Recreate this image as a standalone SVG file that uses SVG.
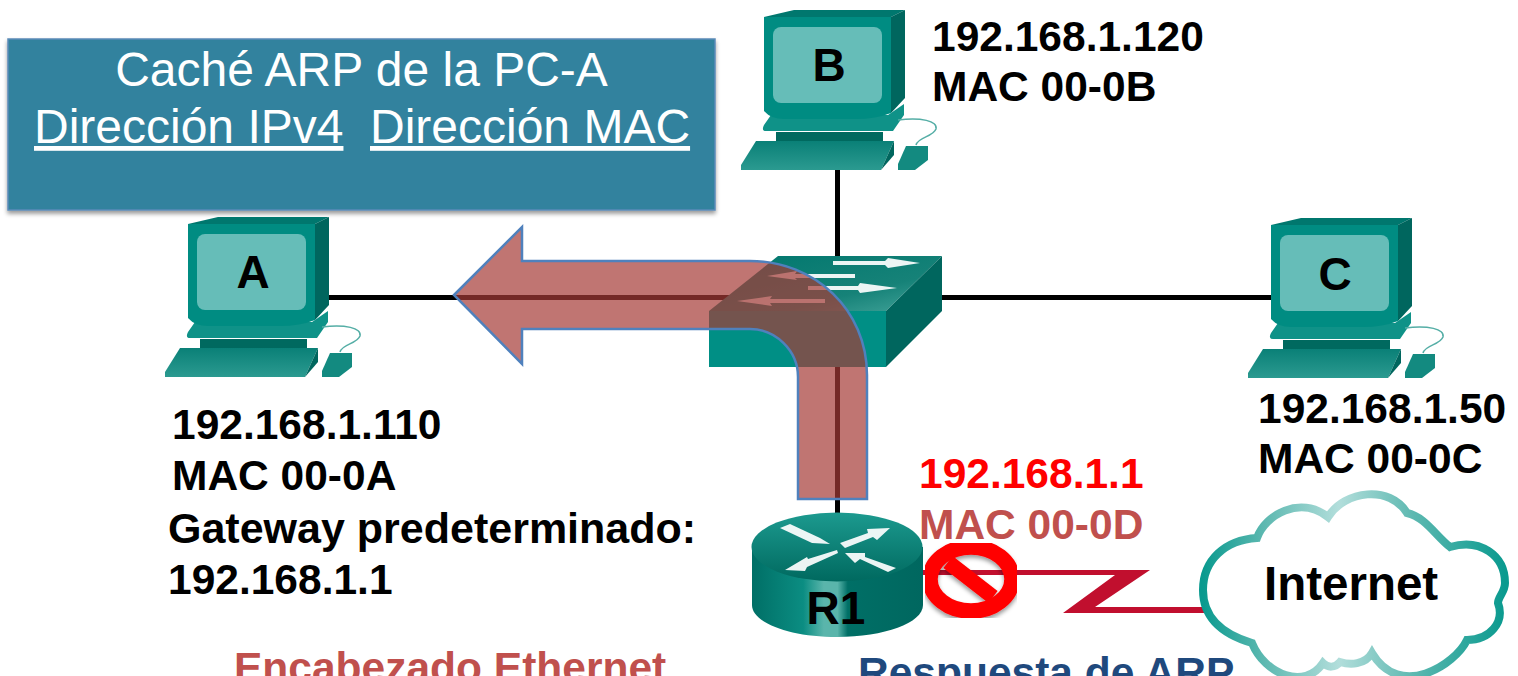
<svg xmlns="http://www.w3.org/2000/svg" xmlns:xlink="http://www.w3.org/1999/xlink" width="1518" height="676" viewBox="0 0 1518 676">
<style>
text{font-family:"Liberation Sans",Arial,sans-serif}
.b{font-weight:700;font-size:42.500px;fill:#000}
.n{font-weight:700;font-size:46px;fill:#000;text-anchor:middle}
.w{font-size:48px;fill:#fff}
.l{stroke:#000;stroke-width:5;fill:none}
.sa{fill:#fff;opacity:.92}
</style>
<defs>
<filter id="sh" x="-5%" y="-5%" width="110%" height="115%"><feDropShadow dx="0" dy="3" stdDeviation="2" flood-color="#000" flood-opacity=".4"/></filter>
<linearGradient id="kb" x1="0" y1="0" x2="0" y2="1"><stop offset="0" stop-color="#0a8077"/><stop offset="1" stop-color="#2b9a90"/></linearGradient>
<linearGradient id="top" x1="0" y1="0" x2="1" y2="1"><stop offset="0" stop-color="#00776e"/><stop offset=".65" stop-color="#168278"/><stop offset="1" stop-color="#45a69c"/></linearGradient>
<linearGradient id="cyl" x1="0" y1="0" x2="1" y2="0"><stop offset="0" stop-color="#006f66"/><stop offset=".3" stop-color="#0b8d82"/><stop offset=".42" stop-color="#5ab5ab"/><stop offset=".5" stop-color="#5ab5ab"/><stop offset=".56" stop-color="#006f66"/><stop offset="1" stop-color="#00675f"/></linearGradient>
<linearGradient id="rt" x1="0" y1="0" x2="0" y2="1"><stop offset="0" stop-color="#1c9a8f"/><stop offset="1" stop-color="#00695f"/></linearGradient>
<linearGradient id="cl" x1="0" y1="0" x2="1" y2="0"><stop offset="0" stop-color="#0a9a8f"/><stop offset=".2" stop-color="#5cb8b0"/><stop offset=".45" stop-color="#b2dedb"/><stop offset=".7" stop-color="#5cb8b0"/><stop offset="1" stop-color="#0a9a8f"/></linearGradient>
<g id="pc">
<path d="M188 224L218 217H329L315 224Z" fill="#00776e"/>
<path d="M315 224L329 217V305L315 320Z" fill="#00665e"/>
<path d="M200 339H307V348H200Z" fill="#00695f"/>
<path d="M195 322H312L328 311V322L317 338H190Q185 338 188 332Z" fill="#0f9288"/>
<path d="M188 224H315V320Q300 326 280 326H208Q195 326 188 318Z" fill="#008c82"/>
<rect x="197" y="234" width="109" height="76" rx="8" fill="#66bdb8"/>
<path d="M180 348H318L305 377H165V372Z" fill="url(#kb)"/>
<path d="M318 348V362L305 377Z" fill="#00665e"/>
<path d="M330 353H352V367L339 377H322V371Z" fill="#138a80"/>
<path d="M322 327C345 324 362 328 360 336C357 344 342 344 340 352" fill="none" stroke="#55aea6" stroke-width="1.500"/>
</g>
</defs>
<rect width="1518" height="676" fill="#fff"/>
<g id="connectors">
<path class="l" d="M329 297.500H760"/>
<path class="l" d="M942 297.500H1272"/>
<path class="l" d="M837.500 170V258"/>
<path class="l" d="M837.500 365V515"/>
<path d="M923 570H1150L1095 607H1205V613H1063L1115 575H923Z" fill="#c10f2e"/>
</g>
<g id="cache-box">
<rect x="8" y="39" width="707" height="171" fill="#33829e" stroke="#5b8ab8" stroke-width="1.500" filter="url(#sh)"/>
<text class="w" x="361.500" y="86" text-anchor="middle">Caché ARP de la PC-A</text>
<text class="w" x="34" y="143" text-decoration="underline">Dirección IPv4</text>
<text class="w" x="370" y="143" text-decoration="underline">Dirección MAC</text>
</g>
<g id="pc-a">
<use xlink:href="#pc" href="#pc"/>
<text class="n" x="253" y="288">A</text>
<text class="b" x="172" y="439">192.168.1.110</text>
<text class="b" x="172" y="490">MAC 00-0A</text>
<text class="b" x="168" y="543" style="font-size:43px">Gateway predeterminado:</text>
<text class="b" x="168" y="594">192.168.1.1</text>
</g>
<g id="pc-b">
<use xlink:href="#pc" href="#pc" transform="translate(576 -207)"/>
<text class="n" x="829" y="81">B</text>
<text class="b" x="932" y="51">192.168.1.120</text>
<text class="b" x="932" y="101">MAC 00-0B</text>
</g>
<g id="pc-c">
<use xlink:href="#pc" href="#pc" transform="translate(1083 1)"/>
<text class="n" x="1335" y="290">C</text>
<text class="b" x="1258" y="423">192.168.1.50</text>
<text class="b" x="1258" y="473">MAC 00-0C</text>
</g>
<g id="switch">
<path d="M709 311L778 256H942L886 311Z" fill="url(#top)"/>
<path d="M709 311H886V367H709Z" fill="#008f85"/>
<path d="M886 311L942 256V311L886 367Z" fill="#00665e"/>
<path class="sa" d="M833 261H885L888 258L920 263L888 268L885 265H833Z"/>
<path class="sa" d="M855 274H795L797 271L767 276L797 280L795 278H855Z"/>
<path class="sa" d="M808 286H858L860 283L897 288L860 293L858 290H808Z"/>
<path class="sa" d="M825 299H770L772 296L737 301L772 306L770 303H825Z"/>
</g>
<g id="router-r1">
<path d="M752 547V605C752 623 790 637 837 637S923 623 923 605V547Z" fill="url(#cyl)"/>
<ellipse cx="837" cy="547" rx="85.500" ry="34.500" fill="url(#rt)"/>
<path class="sa" d="M780 528L790 524L820 538L830 544L812 543Z"/>
<path class="sa" d="M840 543L868 533L867 529L890 528L877 540L873 537L845 548Z"/>
<path class="sa" d="M837 550L808 559L807 557L785 570L805 571L807 567L838 553Z"/>
<path class="sa" d="M845 553L865 553L865 557L896 568L888 572L860 559L855 563Z"/>
<text class="n" x="836" y="624">R1</text>
<text class="b" x="919" y="488" style="fill:#f00">192.168.1.1</text>
<text class="b" x="919" y="539" style="fill:#c0504d">MAC 00-0D</text>
</g>
<g id="internet">
<path d="M1203 590C1203 560 1225 540 1257 538C1265 515 1300 495 1328 517C1345 490 1390 485 1407 513C1425 517 1435 535 1450 547C1480 538 1505 555 1505 583C1505 592 1498 597 1498 603C1505 622 1490 640 1467 640C1455 665 1400 700 1372 653C1365 665 1350 665 1340 662C1335 668 1328 668 1323 663C1305 690 1265 675 1252 643C1225 635 1203 620 1203 590Z" fill="#fff" stroke="url(#cl)" stroke-width="8"/>
<text x="1264" y="600" style="font-weight:700;font-size:47.500px;fill:#000">Internet</text>
</g>
<text id="label-ethernet" class="b" x="234" y="682" style="fill:#c0504d">Encabezado Ethernet</text>
<text id="label-arp" class="b" x="858" y="687" style="fill:#1f497d">Respuesta de ARP</text>
<g id="flow-arrow">
<path d="M454 295L522 227V261H750C815 261 867 310 867 375V499H798V377C798 350 775 329 750 329H522V364Z" fill="#a53b36" fill-opacity=".7" stroke="#4f81bd" stroke-width="2.500"/>
</g>
<g id="blocked" filter="url(#sh)">
<ellipse cx="971" cy="579" rx="41" ry="32" fill="none" stroke="#f00" stroke-width="15.500"/>
<path d="M948 562L993 597" stroke="#f00" stroke-width="15" fill="none"/>
</g>
</svg>
